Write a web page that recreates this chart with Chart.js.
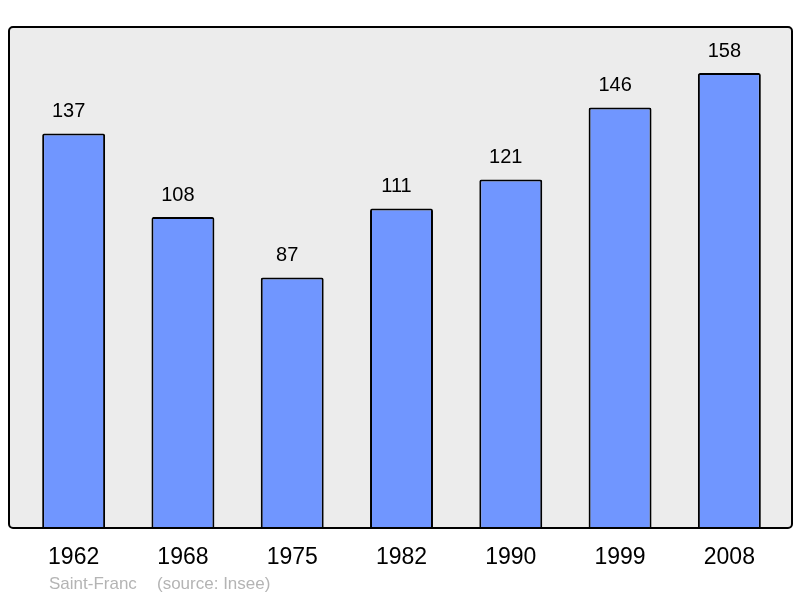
<!DOCTYPE html>
<html lang="fr">
<head>
  <meta charset="UTF-8">
  <title>Saint-Franc</title>
  <script src="https://cdn.jsdelivr.net/npm/chart.js"></script>
  <style>
    html, body { margin: 0; padding: 0; background: #fff; }
    .graph { width: 800px; height: 598px; }
  </style>
</head>
<body>
  <div class="graph">
    <canvas id="popChart" width="800" height="598"></canvas>
  </div>

<script>
  // données
  const annees = ["1962", "1968", "1975", "1982", "1990", "1999", "2008"];
  const population = [137, 108, 87, 111, 121, 146, 158];
  const commune = "Saint-Franc";
  const source = "(source: Insee)";

  const police = "'Liberation Sans', Arial, sans-serif";

  // cadre gris autour de la zone du graphique
  const cadre = {
    id: "cadre",
    beforeDatasetsDraw(chart) {
      const a = chart.chartArea, ctx = chart.ctx;
      ctx.save();
      ctx.beginPath();
      ctx.roundRect(9, a.top, 783, a.bottom - a.top, 4);
      ctx.fillStyle = "#ececec";
      ctx.fill();
      ctx.restore();
    },
    afterDatasetsDraw(chart) {
      const a = chart.chartArea, ctx = chart.ctx;
      ctx.save();
      ctx.beginPath();
      ctx.roundRect(9, a.top, 783, a.bottom - a.top, 4);
      ctx.lineWidth = 2;
      ctx.strokeStyle = "#000";
      ctx.stroke();

      // valeurs au-dessus des barres
      ctx.font = "20px " + police;
      ctx.fillStyle = "#000";
      ctx.textAlign = "center";
      ctx.textBaseline = "middle";
      chart.getDatasetMeta(0).data.forEach(function (bar, i) {
        ctx.fillText(population[i], bar.x - 5, bar.y - 22);
      });

      // légende du bas
      ctx.font = "17px " + police;
      ctx.fillStyle = "#b4b4b4";
      ctx.textAlign = "left";
      ctx.fillText(commune, 49, 584);
      ctx.fillText(source, 157, 584);
      ctx.restore();
    }
  };

  const config = {
    type: "bar",
    data: {
      labels: annees,
      datasets: [
        {
          data: population,
          backgroundColor: "#7096ff",
          borderColor: "#000",
          borderWidth: 2,
          borderRadius: 2,
          borderSkipped: "bottom",
          barPercentage: 0.576,
          categoryPercentage: 1
        }
      ]
    },
    options: {
      responsive: false,
      animation: false,
      layout: { padding: { left: 19, right: 16, top: 27, bottom: 0 } },
      plugins: {
        legend: { display: false },
        tooltip: { enabled: false }
      },
      scales: {
        y: {
          display: false,
          min: 0,
          max: 174
        },
        x: {
          grid: { display: false, drawTicks: false },
          border: { display: false },
          ticks: {
            color: "#000",
            padding: 16,
            font: { family: police, size: 23 }
          },
          afterFit(scale) { scale.height = 70; }
        }
      }
    },
    plugins: [cadre]
  };

  new Chart(document.getElementById("popChart"), config);
</script>
</body>
</html>
